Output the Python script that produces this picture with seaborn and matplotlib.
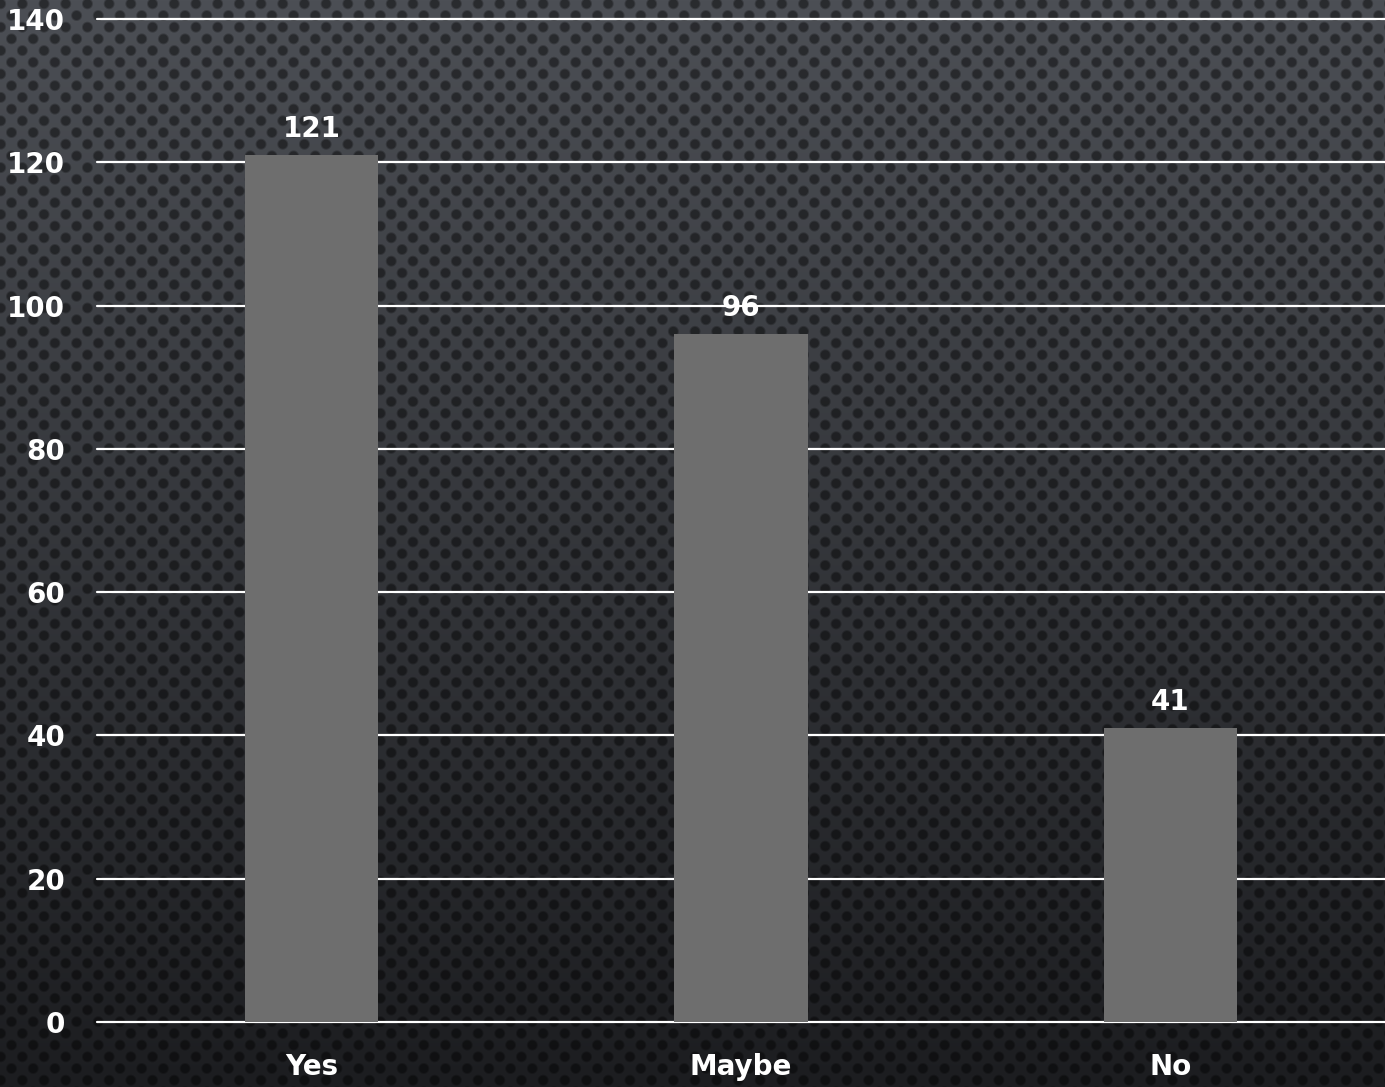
import numpy as np
import pandas as pd
import seaborn as sns
import matplotlib.pyplot as plt

answers = ["Yes", "Maybe", "No"]
counts = [121, 96, 41]
y_ticks = [0, 20, 40, 60, 80, 100, 120, 140]

W, H = 1385, 1087

# dark perforated-metal style background with a vertical gradient
yy, xx = np.mgrid[0:H, 0:W].astype(float)
t = yy / (H - 1)
top = np.array([76, 79, 85]) / 255
bot = np.array([28, 29, 32]) / 255
base = top[None, None, :] * (1 - t[..., None]) + bot[None, None, :] * t[..., None]

sx, sy = 21.7, 23.4
u = (xx - 11) / sx
v = (yy - 15) / sy
d1 = np.hypot((u - np.round(u)) * sx, (v - np.round(v)) * sy)
u2, v2 = u - 0.5, v - 0.5
d2 = np.hypot((u2 - np.round(u2)) * sx, (v2 - np.round(v2)) * sy)
d = np.minimum(d1, d2)
dot = np.clip((6.0 - d) / 2.0, 0, 1)
shade = 1 - 0.45 * dot
bg = np.clip(base * shade[..., None], 0, 1)

sns.set_style("white")
plt.rcParams['font.family'] = ['DejaVu Sans']

fig = plt.figure(figsize=(W / 100, H / 100), dpi=100)
fig.figimage(bg, 0, 0, origin='upper', zorder=-10)

ax = fig.add_axes([97 / W, 1 - 1022 / H, 1 - 97 / W, (1022 - 19) / H])
ax.set_zorder(5)
ax.set_facecolor('none')

df = pd.DataFrame({"answer": answers, "count": counts})
sns.barplot(data=df, x="answer", y="count", color="#6e6e6e", width=0.31,
            saturation=1, linewidth=0, ax=ax, zorder=3)

ax.set_ylim(0, 140)
ax.set_xlim(-0.5, 2.5)
ax.set_yticks(y_ticks)
ax.set_xlabel("")
ax.set_ylabel("")
for s in ax.spines.values():
    s.set_visible(False)

ax.yaxis.grid(True, color="white", linewidth=1.6)
ax.set_axisbelow(True)
for gl in ax.get_ygridlines():
    gl.set_clip_on(False)

ax.tick_params(axis="both", length=0, colors="white", labelsize=20)
ax.tick_params(axis="y", pad=23)
ax.tick_params(axis="x", pad=22)
for lab in ax.get_xticklabels() + ax.get_yticklabels():
    lab.set_fontweight("bold")

ax.bar_label(ax.containers[0], padding=9, color="white", fontsize=20,
             fontweight="bold")

fig.savefig("out.png", dpi=100)
